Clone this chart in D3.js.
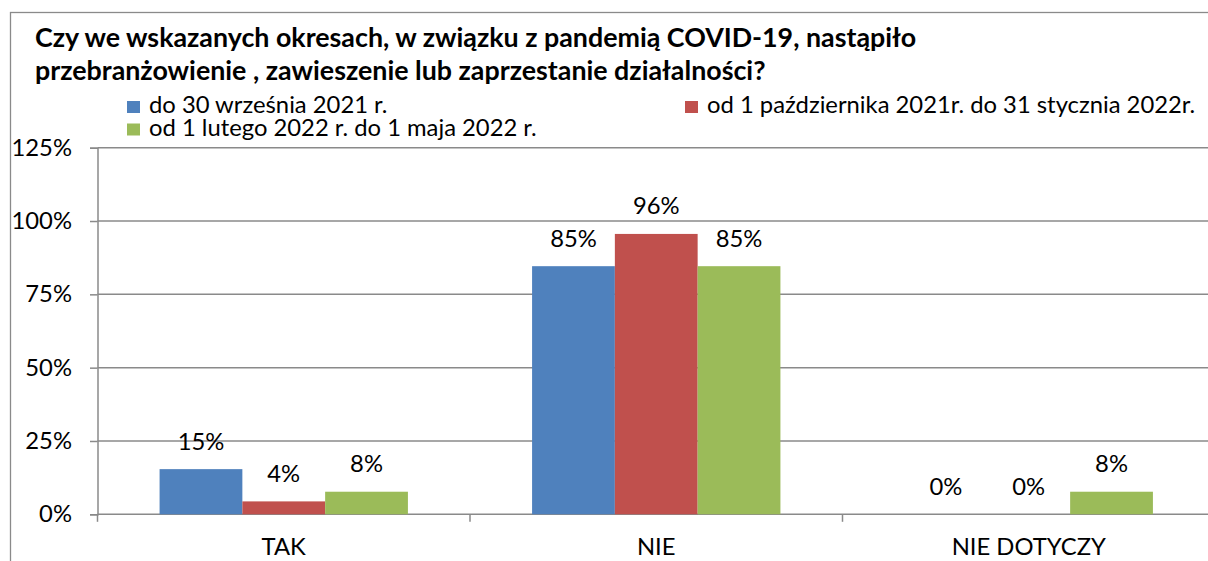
<!DOCTYPE html>
<html>
<head>
<meta charset="utf-8">
<script src="https://cdn.jsdelivr.net/npm/d3@7"></script>
<style>
  body { margin: 0; background: #fff; }
  svg { display: block; }
  text { font-family: Lato, "Noto Sans", sans-serif; fill: #000; }
</style>
</head>
<body>
<svg id="chart" width="1208" height="561"></svg>
<script>
// ---- data ----
const titleLines = [
  "Czy we wskazanych okresach, w związku z pandemią COVID-19, nastąpiło",
  "przebranżowienie , zawieszenie lub zaprzestanie działalności?"
];
const categories = ["TAK", "NIE", "NIE DOTYCZY"];
const seriesNames = [
  "do 30 września 2021 r.",
  "od 1 października 2021r. do 31 stycznia 2022r.",
  "od 1 lutego 2022 r. do 1 maja 2022 r."
];
const seriesColors = ["#4F81BD", "#C0504D", "#9BBB59"];
const valuesToSep2021 = [0.154, 0.846, 0];
const valuesOct2021Jan2022 = [0.044, 0.956, 0];
const valuesFebMay2022 = [0.077, 0.846, 0.077];
const yTicks = [0, 0.25, 0.5, 0.75, 1, 1.25];

const seriesValues = [valuesToSep2021, valuesOct2021Jan2022, valuesFebMay2022];

// ---- layout ----
const svg = d3.select("#chart");
const W = 1208, H = 561;
const plot = { left: 97.5, right: 1215, top: 147.7, bottom: 514.3 };
const gridColor = "#8a8a8a";
const fs = 23.8;

svg.append("rect").attr("width", W).attr("height", H).attr("fill", "#fff");

// outer chart frame (continues past the right and bottom edges)
svg.append("rect")
  .attr("x", 10.5).attr("y", 12.5)
  .attr("width", 1240).attr("height", 600)
  .attr("fill", "none").attr("stroke", gridColor).attr("stroke-width", 1.3);

// title
svg.append("g").selectAll("text").data(titleLines).join("text")
  .attr("x", 35).attr("y", (d, i) => 47 + i * 32.5)
  .style("font-weight", "bold").style("font-size", "26.8px")
  .text(d => d);

// scales
const x = d3.scaleBand().domain(categories).range([plot.left, plot.right]).paddingInner(0).paddingOuter(0);
const xs = d3.scaleBand().domain(d3.range(seriesNames.length)).range([0, x.bandwidth()]).paddingInner(0).paddingOuter(0.75);
const y = d3.scaleLinear().domain([0, 1.25]).range([plot.bottom, plot.top]);
const pct = d3.format(".0%");

// gridlines
svg.append("g").selectAll("line").data(yTicks).join("line")
  .attr("x1", plot.left).attr("x2", plot.right)
  .attr("y1", d => y(d)).attr("y2", d => y(d))
  .attr("stroke", gridColor).attr("stroke-width", 1.5);

// y axis
const yAxis = svg.append("g").attr("transform", `translate(${plot.left},0)`)
  .call(d3.axisLeft(y).tickValues(yTicks).tickFormat(pct).tickSize(7.5).tickPadding(18));
yAxis.select(".domain").attr("stroke", gridColor).attr("stroke-width", 1.5);
yAxis.selectAll(".tick line").attr("stroke", gridColor).attr("stroke-width", 1.5);
yAxis.selectAll(".tick text").style("font-size", fs + "px").style("font-family", "Lato, sans-serif").attr("fill", "#000");

// category axis: boundary ticks + labels
const bounds = categories.map(c => x(c)).concat([plot.right]);
svg.append("g").selectAll("line").data(bounds).join("line")
  .attr("x1", d => d).attr("x2", d => d)
  .attr("y1", plot.bottom).attr("y2", plot.bottom + 7.5)
  .attr("stroke", gridColor).attr("stroke-width", 1.5);
svg.append("g").selectAll("text").data(categories).join("text")
  .attr("x", d => x(d) + x.bandwidth() / 2).attr("y", plot.bottom + 40.5)
  .attr("text-anchor", "middle").style("font-size", fs + "px")
  .text(d => d);

// bars
const groups = svg.append("g").selectAll("g").data(seriesValues).join("g")
  .attr("fill", (d, i) => seriesColors[i]);
groups.each(function (vals, si) {
  const g = d3.select(this);
  g.selectAll("rect").data(vals).join("rect")
    .attr("x", (v, ci) => x(categories[ci]) + xs(si))
    .attr("width", xs.bandwidth())
    .attr("y", v => y(v))
    .attr("height", v => y(0) - y(v));
  g.selectAll("text").data(vals).join("text")
    .attr("x", (v, ci) => x(categories[ci]) + xs(si) + xs.bandwidth() / 2)
    .attr("y", v => y(v) - 19.5)
    .attr("text-anchor", "middle").style("font-size", fs + "px")
    .attr("fill", "#000")
    .text(v => pct(v));
});

// legend
const legendPos = [
  { x: 127, y: 113 },
  { x: 685, y: 113 },
  { x: 127, y: 135.5 }
];
const legend = svg.append("g").selectAll("g").data(seriesNames).join("g")
  .attr("transform", (d, i) => `translate(${legendPos[i].x},${legendPos[i].y})`);
legend.append("rect").attr("x", 0).attr("y", -12).attr("width", 13).attr("height", 12)
  .attr("fill", (d, i) => seriesColors[i]);
legend.append("text").attr("x", 22).attr("y", 0).style("font-size", fs + "px").text(d => d);
</script>
</body>
</html>
